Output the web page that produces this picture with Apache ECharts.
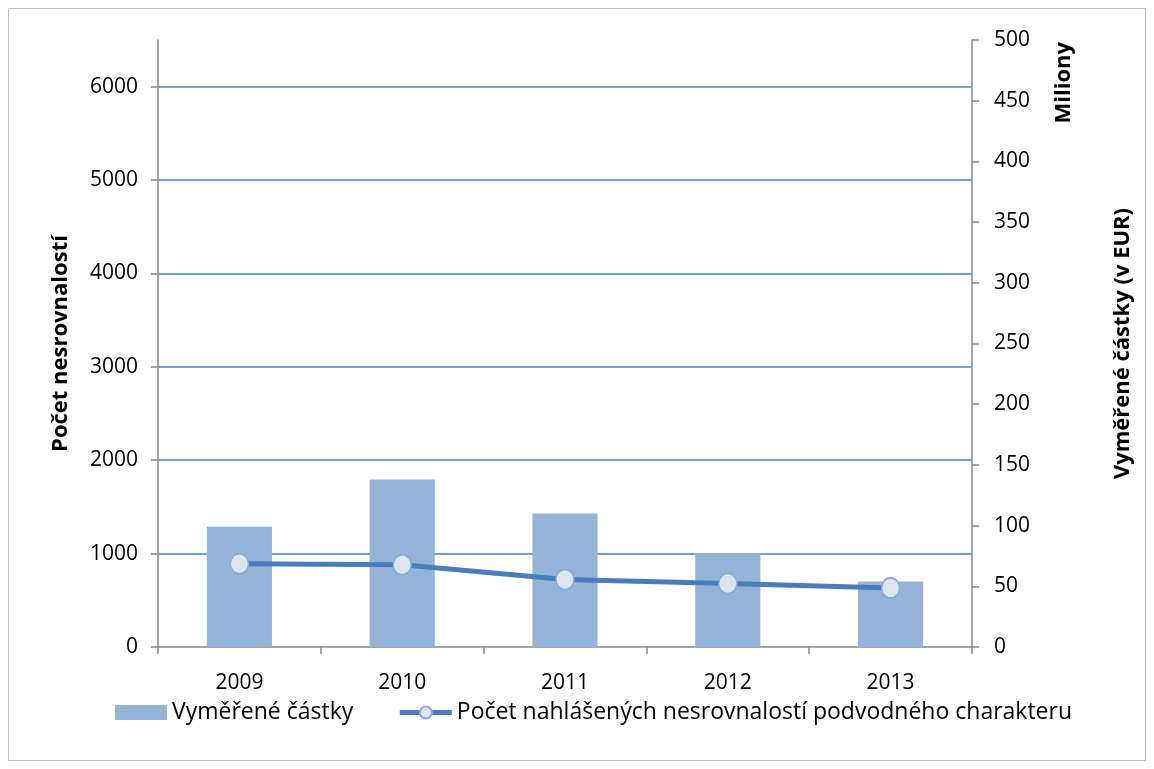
<!DOCTYPE html>
<html>
<head>
<meta charset="utf-8">
<script src="https://cdn.jsdelivr.net/npm/echarts@6/dist/echarts.min.js"></script>
<style>
html,body{margin:0;padding:0;background:#fff;}
#chart{width:1154px;height:769px;}
</style>
</head>
<body>
<div id="chart"></div>
<script>
var years = ['2009', '2010', '2011', '2012', '2013'];
var amounts = [99, 138, 110, 77.5, 54];          // Vyměřené částky (Miliony EUR)
var counts = [892, 881, 723, 680, 633];           // Počet nahlášených nesrovnalostí
var leftTicks = [0, 1000, 2000, 3000, 4000, 5000, 6000];

var FONT = 'Open Sans';
var chart = echarts.init(document.getElementById('chart'));
chart.setOption({
  animation: false,
  textStyle: { fontFamily: FONT },
  graphic: [
    { type: 'rect', shape: { x: 8.5, y: 8.5, width: 1137, height: 752 },
      style: { fill: 'none', stroke: '#bfbfbf', lineWidth: 1 }, silent: true },
    { type: 'text', left: 1053, top: 42, rotation: Math.PI / 2, silent: true,
      style: { text: 'Miliony', font: 'bold 22px "Open Sans"', fill: '#000' } }
  ],
  grid: { left: 158, right: 182, top: 40, bottom: 122 },
  legend: {
    left: 110, top: 696, itemWidth: 52, itemHeight: 15, itemGap: 44,
    textStyle: { fontSize: 23, color: '#000', fontFamily: FONT },
    data: [
      { name: 'Vyměřené částky', icon: 'rect' },
      { name: 'Počet nahlášených nesrovnalostí podvodného charakteru',
        lineStyle: { width: 5, color: '#4a7ebb' } }
    ]
  },
  xAxis: {
    type: 'category', data: years, boundaryGap: true,
    axisLine: { lineStyle: { color: '#868686', width: 1.5 } },
    axisTick: { show: true, length: 7, lineStyle: { color: '#868686', width: 1.5 } },
    axisLabel: { color: '#000', fontSize: 21, margin: 26 }
  },
  yAxis: [
    {
      type: 'value', min: 0, max: 6500, interval: 1000, position: 'left',
      name: 'Počet nesrovnalostí', nameLocation: 'middle', nameGap: 86, nameRotate: 90,
      nameTextStyle: { fontWeight: 'bold', fontSize: 22, color: '#000' },
      axisLine: { show: true, lineStyle: { color: '#868686', width: 1.5 } },
      axisTick: { show: true, length: 7, customValues: leftTicks, lineStyle: { color: '#868686', width: 1.5 } },
      axisLabel: { color: '#000', fontSize: 21, margin: 20, customValues: leftTicks,
        formatter: function (v) { return String(v); } },
      splitLine: { show: true, showMinLine: false, lineStyle: { color: '#4a7ebb', width: 1.5 } }
    },
    {
      type: 'value', min: 0, max: 500, interval: 50, position: 'right',
      name: 'Vyměřené částky (v EUR)', nameLocation: 'middle', nameGap: 140, nameRotate: 90,
      nameTextStyle: { fontWeight: 'bold', fontSize: 22, color: '#000' },
      axisLine: { show: true, lineStyle: { color: '#868686', width: 1.5 } },
      axisTick: { show: true, length: 7, lineStyle: { color: '#868686', width: 1.5 } },
      axisLabel: { color: '#000', fontSize: 21, margin: 22 },
      splitLine: { show: false }
    }
  ],
  series: [
    {
      name: 'Vyměřené částky', type: 'bar', yAxisIndex: 1, data: amounts,
      barWidth: '40%', itemStyle: { color: '#95b3d7' }, z: 2
    },
    {
      name: 'Počet nahlášených nesrovnalostí podvodného charakteru', type: 'line', yAxisIndex: 0,
      data: counts, symbol: 'circle', symbolSize: [18, 20],
      lineStyle: { color: '#4a7ebb', width: 5 },
      itemStyle: { color: '#dce6f2', borderColor: '#8eaad4', borderWidth: 1.5 },
      z: 3
    }
  ]
});
</script>
</body>
</html>
